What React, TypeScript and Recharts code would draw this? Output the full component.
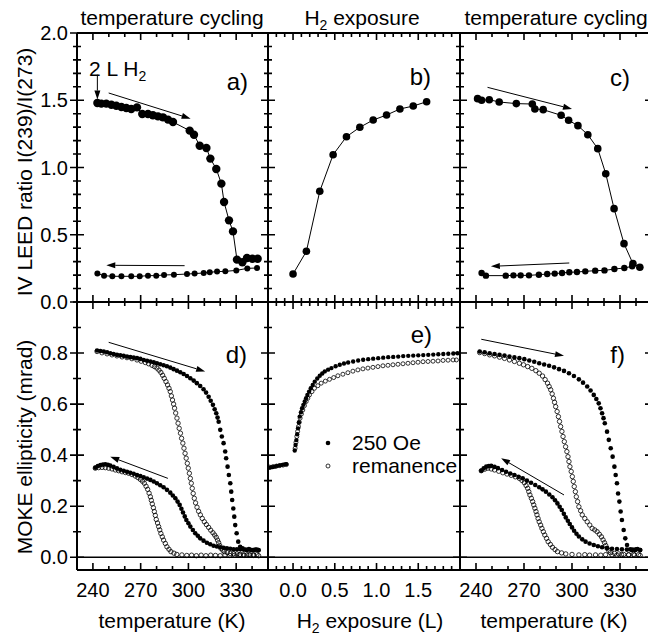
import { ComposedChart, Scatter, XAxis, YAxis, ReferenceLine } from "recharts";

// ---- tick values ----
const tempTicks = [240, 250, 260, 270, 280, 290, 300, 310, 320, 330, 340];
const tempMajor = [240, 270, 300, 330];
const expTicks = [-0.2, -0.1, 0, 0.1, 0.2, 0.3, 0.4, 0.5, 0.6, 0.7, 0.8, 0.9, 1.0, 1.1, 1.2, 1.3, 1.4, 1.5, 1.6, 1.7, 1.8, 1.9];
const expMajor = [0, 0.5, 1.0, 1.5];
const ratioTicks = [0, 0.1, 0.2, 0.3, 0.4, 0.5, 0.6, 0.7, 0.8, 0.9, 1.0, 1.1, 1.2, 1.3, 1.4, 1.5, 1.6, 1.7, 1.8, 1.9, 2.0];
const ratioMajor = [0, 0.5, 1.0, 1.5, 2.0];
const mokeTicks = [0, 0.1, 0.2, 0.3, 0.4, 0.5, 0.6, 0.7, 0.8, 0.9, 1.0];
const mokeMajor = [0, 0.2, 0.4, 0.6, 0.8];

// ---- a) IV LEED ratio, temperature cycling ----
const aHeat: [number, number][] = [
  [242.8, 1.48], [245.3, 1.475], [248.4, 1.475], [251.6, 1.467], [254.7, 1.459], [257.9, 1.45],
  [261.0, 1.442], [264.1, 1.435], [267.7, 1.447], [271.0, 1.398], [274.6, 1.398], [277.7, 1.388],
  [280.9, 1.38], [284.0, 1.373], [287.2, 1.356], [290.3, 1.338], [300.8, 1.274], [303.5, 1.244],
  [307.1, 1.162], [311.3, 1.145], [313.8, 1.066], [317.5, 0.989], [320.7, 0.88], [322.4, 0.743],
  [325.5, 0.607], [328.0, 0.525], [330.5, 0.315], [333.9, 0.295], [336.8, 0.327], [340.2, 0.322],
  [343.5, 0.322],
];
const aCool: [number, number][] = [
  [242.8, 0.211], [247.0, 0.196], [252.2, 0.191], [257.9, 0.191], [264.1, 0.191], [269.4, 0.191],
  [274.6, 0.196], [279.8, 0.196], [284.7, 0.201], [290.9, 0.203], [299.1, 0.208], [303.9, 0.211],
  [309.6, 0.216], [313.4, 0.221], [318.0, 0.226], [323.2, 0.228], [330.1, 0.235], [337.0, 0.25],
  [343.1, 0.253],
];

// ---- b) IV LEED ratio vs H2 exposure ----
const bExposure = [0, 0.16, 0.32, 0.48, 0.64, 0.8, 0.96, 1.12, 1.28, 1.44, 1.6];
const bRatio = [0.208, 0.377, 0.823, 1.095, 1.229, 1.299, 1.353, 1.39, 1.435, 1.457, 1.489];

// ---- c) IV LEED ratio, temperature cycling after exposure ----
const cHeat: [number, number][] = [
  [241.0, 1.512], [243.5, 1.5], [248.3, 1.504], [254.5, 1.487], [265.2, 1.475], [275.2, 1.472],
  [276.8, 1.435], [282.0, 1.43], [293.2, 1.388], [297.9, 1.351], [303.7, 1.311], [309.9, 1.244],
  [316.1, 1.14], [321.1, 0.954], [326.3, 0.694], [332.5, 0.434], [338.1, 0.285], [342.4, 0.258],
];
const cCool: [number, number][] = [
  [243.5, 0.216], [246.2, 0.196], [258.6, 0.196], [263.4, 0.198], [267.9, 0.198], [273.1, 0.198],
  [279.3, 0.203], [284.5, 0.208], [289.2, 0.211], [293.8, 0.216], [298.3, 0.221], [303.1, 0.223],
  [308.3, 0.228], [314.5, 0.233], [320.3, 0.235], [326.5, 0.245], [332.7, 0.253], [337.6, 0.265],
];

// ---- d) MOKE ellipticity ----
const dHeatField: [number, number][] = [
  [242.6, 0.81], [244.7, 0.808], [246.8, 0.806], [248.9, 0.803], [250.9, 0.799], [253.0, 0.796],
  [255.1, 0.793], [257.2, 0.791], [259.3, 0.789], [261.4, 0.786], [263.5, 0.784], [265.6, 0.782],
  [267.7, 0.78], [269.8, 0.777], [271.9, 0.773], [274.0, 0.77], [276.1, 0.767], [278.2, 0.764],
  [280.2, 0.76], [282.3, 0.756], [284.4, 0.752], [286.5, 0.748], [288.6, 0.743], [290.7, 0.737],
  [292.8, 0.731], [294.9, 0.725], [297.0, 0.718], [299.1, 0.71], [301.2, 0.701], [303.3, 0.692],
  [305.3, 0.682], [307.4, 0.671], [309.5, 0.658], [311.1, 0.645], [312.7, 0.629], [314.0, 0.613],
  [315.4, 0.597], [316.5, 0.58], [317.5, 0.564], [318.3, 0.547], [319.0, 0.531], [320.0, 0.499],
  [321.0, 0.473], [322.1, 0.447], [323.1, 0.414], [323.7, 0.388], [324.6, 0.355], [325.4, 0.322],
  [326.3, 0.29], [326.9, 0.257], [327.5, 0.224], [328.2, 0.191], [328.8, 0.159], [329.4, 0.126],
  [330.3, 0.094], [331.3, 0.061], [332.5, 0.041], [334.0, 0.035], [336.0, 0.03], [338.0, 0.032],
  [340.0, 0.028], [342.0, 0.03], [344.0, 0.027],
];
const dHeatRem: [number, number][] = [
  [242.6, 0.806], [245.7, 0.801], [248.9, 0.797], [252.0, 0.793], [255.1, 0.789], [258.3, 0.785],
  [261.4, 0.782], [264.5, 0.778], [267.7, 0.773], [270.3, 0.768], [272.9, 0.763], [275.0, 0.758],
  [277.1, 0.752], [278.7, 0.747], [280.2, 0.741], [281.5, 0.733], [282.7, 0.724], [283.8, 0.713],
  [284.8, 0.701], [285.9, 0.688], [286.9, 0.675], [287.8, 0.662], [288.6, 0.649], [289.3, 0.632],
  [290.0, 0.616], [290.7, 0.6], [291.3, 0.584], [292.0, 0.565], [292.8, 0.545], [293.5, 0.525],
  [294.2, 0.505], [295.0, 0.486], [295.7, 0.466], [296.5, 0.447], [297.2, 0.427], [297.9, 0.407],
  [298.6, 0.388], [299.3, 0.368], [299.9, 0.349], [300.6, 0.329], [301.2, 0.309], [301.8, 0.29],
  [302.4, 0.27], [303.0, 0.25], [303.7, 0.231], [304.5, 0.213], [305.4, 0.196], [306.4, 0.18],
  [307.5, 0.166], [308.7, 0.152], [310.0, 0.139], [311.3, 0.128], [312.7, 0.117], [314.0, 0.106],
  [315.4, 0.096], [316.5, 0.087], [317.5, 0.078], [318.3, 0.067], [319.0, 0.057], [319.7, 0.046],
  [320.4, 0.035], [321.5, 0.028], [322.5, 0.022], [324.4, 0.018], [326.3, 0.015], [328.4, 0.014],
  [330.5, 0.013], [332.6, 0.011], [334.6, 0.01], [336.7, 0.009], [338.8, 0.009], [340.9, 0.01],
  [343.0, 0.01],
];
const dCoolField: [number, number][] = [
  [241.5, 0.351], [243.1, 0.357], [244.7, 0.361], [246.3, 0.363], [247.8, 0.364], [249.4, 0.362],
  [250.9, 0.359], [253.0, 0.354], [255.1, 0.348], [257.2, 0.343], [259.3, 0.339], [261.4, 0.335],
  [263.5, 0.331], [265.6, 0.327], [267.7, 0.322], [269.8, 0.318], [271.9, 0.313], [274.0, 0.308],
  [276.1, 0.303], [278.2, 0.297], [280.2, 0.29], [282.3, 0.282], [284.4, 0.274], [286.5, 0.264],
  [288.6, 0.253], [290.2, 0.242], [291.8, 0.231], [293.2, 0.218], [294.5, 0.205], [295.6, 0.19],
  [296.6, 0.175], [297.7, 0.16], [298.7, 0.146], [300.0, 0.133], [301.2, 0.12], [302.8, 0.107],
  [304.3, 0.094], [305.9, 0.084], [307.4, 0.074], [309.5, 0.065], [311.6, 0.057], [313.7, 0.051],
  [315.8, 0.045], [317.9, 0.042], [320.0, 0.039], [322.1, 0.037], [324.2, 0.035], [326.3, 0.033],
  [328.4, 0.031], [330.5, 0.031], [332.6, 0.031], [334.7, 0.03], [336.8, 0.028], [338.9, 0.029],
  [341.0, 0.028], [343.0, 0.03], [344.1, 0.028],
];
const dCoolRem: [number, number][] = [
  [241.5, 0.349], [243.6, 0.351], [245.7, 0.352], [247.8, 0.351], [249.9, 0.349], [252.0, 0.346],
  [254.1, 0.342], [256.2, 0.339], [258.3, 0.335], [260.4, 0.332], [262.5, 0.329], [264.6, 0.324],
  [266.7, 0.318], [268.3, 0.312], [269.8, 0.305], [271.1, 0.298], [272.3, 0.29], [273.4, 0.278],
  [274.4, 0.266], [275.3, 0.251], [276.1, 0.237], [276.7, 0.223], [277.3, 0.209], [278.0, 0.194],
  [278.6, 0.179], [279.2, 0.164], [279.8, 0.148], [280.6, 0.134], [281.3, 0.12], [282.0, 0.107],
  [282.7, 0.093], [283.6, 0.08], [284.4, 0.067], [285.5, 0.054], [286.5, 0.041], [287.8, 0.031],
  [289.0, 0.022], [290.9, 0.016], [292.7, 0.011], [295.9, 0.009], [299.0, 0.007], [302.0, 0.008],
  [305.0, 0.006], [308.0, 0.008], [311.0, 0.006], [314.0, 0.008], [317.0, 0.007], [320.0, 0.006],
  [323.0, 0.009], [326.0, 0.007], [329.0, 0.008], [332.0, 0.009], [335.0, 0.007], [338.0, 0.01],
  [341.0, 0.007], [344.1, 0.006],
];

// ---- e) MOKE vs H2 exposure ----
const eField: [number, number][] = [
  [-0.28, 0.351], [-0.25, 0.353], [-0.22, 0.355], [-0.19, 0.358], [-0.16, 0.36], [-0.13, 0.362],
  [-0.1, 0.364], [-0.08, 0.365], [0.02, 0.418], [0.03, 0.44], [0.04, 0.459], [0.05, 0.482],
  [0.06, 0.505], [0.07, 0.528], [0.08, 0.551], [0.095, 0.568], [0.108, 0.584], [0.124, 0.597],
  [0.14, 0.61], [0.156, 0.623], [0.172, 0.636], [0.192, 0.649], [0.212, 0.662], [0.236, 0.675],
  [0.26, 0.688], [0.29, 0.7], [0.32, 0.711], [0.35, 0.72], [0.38, 0.728], [0.42, 0.735],
  [0.46, 0.741], [0.51, 0.748], [0.56, 0.754], [0.61, 0.759], [0.66, 0.763], [0.72, 0.767],
  [0.78, 0.771], [0.84, 0.774], [0.9, 0.776], [0.96, 0.778], [1.02, 0.78], [1.08, 0.782],
  [1.14, 0.784], [1.2, 0.785], [1.26, 0.786], [1.32, 0.788], [1.38, 0.789], [1.44, 0.79],
  [1.5, 0.791], [1.56, 0.792], [1.62, 0.793], [1.68, 0.794], [1.74, 0.795], [1.8, 0.796],
  [1.86, 0.797], [1.92, 0.798], [1.97, 0.799],
];
const eRem: [number, number][] = [
  [-0.28, 0.353], [-0.24, 0.355], [-0.2, 0.357], [-0.16, 0.359], [-0.12, 0.361], [-0.08, 0.363],
  [0.025, 0.427], [0.035, 0.45], [0.045, 0.473], [0.055, 0.493], [0.065, 0.512], [0.075, 0.529],
  [0.085, 0.545], [0.1, 0.561], [0.117, 0.577], [0.137, 0.594], [0.157, 0.61], [0.177, 0.623],
  [0.197, 0.636], [0.227, 0.649], [0.257, 0.662], [0.297, 0.672], [0.337, 0.682], [0.387, 0.69],
  [0.437, 0.697], [0.487, 0.704], [0.537, 0.711], [0.597, 0.717], [0.657, 0.723], [0.717, 0.729],
  [0.777, 0.734], [0.837, 0.738], [0.897, 0.741], [0.957, 0.744], [1.017, 0.747], [1.077, 0.75],
  [1.137, 0.752], [1.197, 0.754], [1.257, 0.756], [1.317, 0.758], [1.377, 0.76], [1.437, 0.762],
  [1.497, 0.764], [1.557, 0.766], [1.617, 0.767], [1.677, 0.768], [1.737, 0.769], [1.797, 0.771],
  [1.857, 0.772], [1.917, 0.773], [1.957, 0.773],
];

// ---- f) MOKE, second temperature cycle ----
const fHeatField: [number, number][] = [
  [242.3, 0.806], [245.4, 0.803], [248.5, 0.799], [251.6, 0.796], [254.7, 0.793], [257.8, 0.79],
  [260.9, 0.786], [264.0, 0.783], [267.1, 0.78], [270.2, 0.776], [273.3, 0.771], [276.4, 0.766],
  [279.5, 0.76], [282.6, 0.755], [285.7, 0.75], [288.8, 0.744], [291.9, 0.737], [295.0, 0.73],
  [298.1, 0.721], [301.2, 0.71], [304.3, 0.697], [306.9, 0.684], [309.5, 0.669], [311.6, 0.653],
  [313.6, 0.636], [315.2, 0.62], [316.7, 0.603], [317.8, 0.584], [318.8, 0.564], [319.7, 0.545],
  [320.5, 0.525], [321.9, 0.492], [323.0, 0.46], [324.2, 0.427], [325.4, 0.394], [326.5, 0.355],
  [327.3, 0.322], [328.1, 0.29], [328.8, 0.25], [329.6, 0.218], [330.4, 0.179], [331.2, 0.146],
  [332.3, 0.107], [333.3, 0.074], [334.4, 0.048], [336.4, 0.031], [338.0, 0.03], [339.5, 0.028],
  [341.0, 0.032], [342.6, 0.028],
];
const fHeatRem: [number, number][] = [
  [242.3, 0.802], [245.4, 0.798], [248.5, 0.793], [251.6, 0.789], [254.7, 0.784], [257.8, 0.779],
  [260.9, 0.773], [264.0, 0.767], [267.1, 0.76], [269.7, 0.754], [272.3, 0.747], [274.9, 0.74],
  [277.4, 0.731], [279.5, 0.721], [281.6, 0.71], [283.2, 0.696], [284.7, 0.682], [285.7, 0.669],
  [286.7, 0.656], [287.6, 0.64], [288.4, 0.623], [289.1, 0.607], [289.8, 0.59], [290.7, 0.571],
  [291.5, 0.551], [292.2, 0.532], [292.9, 0.512], [293.7, 0.493], [294.4, 0.473], [295.2, 0.453],
  [296.0, 0.433], [296.8, 0.414], [297.5, 0.394], [298.1, 0.375], [298.7, 0.355], [299.5, 0.336],
  [300.2, 0.316], [300.8, 0.297], [301.4, 0.277], [302.1, 0.257], [302.7, 0.237], [303.5, 0.218],
  [304.3, 0.198], [305.4, 0.182], [306.4, 0.166], [308.0, 0.152], [309.5, 0.139], [311.1, 0.126],
  [312.6, 0.113], [314.2, 0.107], [315.7, 0.1], [317.1, 0.09], [318.4, 0.08], [319.4, 0.068],
  [320.3, 0.057], [321.1, 0.046], [321.9, 0.035], [323.0, 0.026], [324.0, 0.018], [326.6, 0.015],
  [329.2, 0.013], [332.3, 0.011], [335.4, 0.01], [338.5, 0.011], [341.6, 0.01],
];
const fCoolField: [number, number][] = [
  [243.3, 0.339], [244.8, 0.348], [246.4, 0.355], [248.0, 0.357], [249.5, 0.358], [251.6, 0.354],
  [253.7, 0.349], [256.3, 0.342], [258.8, 0.335], [261.4, 0.328], [264.0, 0.322], [266.6, 0.315],
  [269.2, 0.309], [271.8, 0.3], [274.4, 0.292], [277.0, 0.283], [279.5, 0.274], [281.6, 0.266],
  [283.7, 0.257], [285.8, 0.246], [287.8, 0.235], [289.4, 0.223], [290.9, 0.211], [292.3, 0.198],
  [293.6, 0.185], [294.9, 0.17], [296.1, 0.156], [297.4, 0.143], [298.6, 0.13], [300.0, 0.117],
  [301.3, 0.104], [302.8, 0.092], [304.3, 0.081], [306.4, 0.07], [308.5, 0.061], [311.0, 0.054],
  [313.6, 0.048], [316.2, 0.043], [318.8, 0.039], [321.9, 0.036], [325.0, 0.033], [328.1, 0.032],
  [331.2, 0.031], [334.3, 0.03], [337.4, 0.028], [340.0, 0.031], [342.6, 0.028],
];
const fCoolRem: [number, number][] = [
  [243.3, 0.339], [245.4, 0.345], [247.4, 0.349], [249.5, 0.346], [251.6, 0.342], [254.2, 0.337],
  [256.8, 0.331], [259.4, 0.326], [262.0, 0.321], [264.6, 0.315], [267.1, 0.309], [268.7, 0.301],
  [270.2, 0.292], [271.3, 0.281], [272.3, 0.27], [273.0, 0.257], [273.7, 0.244], [274.6, 0.231],
  [275.4, 0.218], [276.1, 0.205], [276.8, 0.192], [277.5, 0.179], [278.1, 0.166], [278.8, 0.152],
  [279.5, 0.139], [280.4, 0.126], [281.2, 0.113], [282.1, 0.1], [283.0, 0.087], [284.1, 0.074],
  [285.1, 0.061], [286.5, 0.05], [287.8, 0.039], [289.4, 0.03], [290.9, 0.022], [293.5, 0.017],
  [296.1, 0.013], [300.0, 0.011], [304.3, 0.009], [308.0, 0.01], [311.0, 0.008], [314.7, 0.009],
  [318.0, 0.008], [321.0, 0.01], [325.0, 0.009], [328.0, 0.008], [331.0, 0.01], [335.4, 0.009],
  [339.0, 0.008], [342.6, 0.007],
];

// arrows drawn in data coordinates: [[x1, y1], [x2, y2]]
const aArrows = [[[249.9, 1.554], [301.4, 1.363]], [[297.6, 0.27], [248.4, 0.273]], [[242.8, 1.69], [242.8, 1.505]]];
const cArrows = [[[247.2, 1.596], [300.0, 1.435]], [[298.3, 0.29], [249.3, 0.265]]];
const dArrows = [[[249.9, 0.842], [310.5, 0.728]], [[287.1, 0.309], [250.9, 0.394]]];
const fArrows = [[[243.3, 0.854], [295.0, 0.789]], [[295.0, 0.244], [255.7, 0.388]]];

const FONT = "'Liberation Sans', Arial, Helvetica, sans-serif";
const P = 40;

const pts = (arr: [number, number][]) => arr.map(([x, y]) => ({ x, y }));
const has = (list: number[], v: number) => list.some((m) => Math.abs(m - v) < 1e-6);

function labelFor(side: "bottom" | "left", labels: number[], digits: number) {
  return (props: any) => {
    const { x, y, payload } = props;
    const v = payload.value;
    if (!has(labels, v)) return <g />;
    const txt = v.toFixed(digits);
    return side === "bottom" ? (
      <text x={x} y={y + 27} textAnchor="middle" fontSize={20} fontFamily={FONT} fill="#000">{txt}</text>
    ) : (
      <text x={x - 9} y={y + 7} textAnchor="end" fontSize={20} fontFamily={FONT} fill="#000">{txt}</text>
    );
  };
}

const arrowShape = (p: any) => {
  const { x1, y1, x2, y2 } = p;
  if ([x1, y1, x2, y2].some((n) => typeof n !== "number")) return <g />;
  const ang = Math.atan2(y2 - y1, x2 - x1);
  const L = 9;
  const W = 3;
  const bx = x2 - L * Math.cos(ang);
  const by = y2 - L * Math.sin(ang);
  const nx = -Math.sin(ang) * W;
  const ny = Math.cos(ang) * W;
  return (
    <g>
      <path d={`M${x1},${y1}L${bx},${by}`} stroke="#000" strokeWidth={1} fill="none" />
      <path d={`M${x2},${y2}L${bx + nx},${by + ny}L${bx - nx},${by - ny}Z`} fill="#000" stroke="none" />
    </g>
  );
};

const dot = (r: number) => (p: any) => <circle cx={p.cx} cy={p.cy} r={r} fill="#000" />;
const ring = (r: number) => (p: any) => (
  <circle cx={p.cx} cy={p.cy} r={r} fill="none" stroke="#000" strokeWidth={0.8} />
);

const axisLine = { stroke: "#000", strokeWidth: 2 };

interface Frame {
  left: number;
  top: number;
  width: number;
  height: number;
  xDomain: [number, number];
  xTicks: number[];
  xMajor: number[];
  xLabels: boolean;
  yDomain: [number, number];
  yTicks: number[];
  yMajor: number[];
  yLabels: boolean;
}

function Panel(p: Frame & { children: any }) {
  const xDigits = p.xMajor[0] === 0 ? 1 : 0;
  return (
    <div style={{ position: "absolute", left: p.left - P, top: p.top - P }}>
      <ComposedChart width={p.width + 2 * P} height={p.height + 2 * P} margin={{ top: 0, right: 0, bottom: 0, left: 0 }}>
        <XAxis xAxisId="b" orientation="bottom" type="number" dataKey="x" domain={p.xDomain} allowDataOverflow
          ticks={p.xTicks} interval={0} height={P} tickSize={0} tickMargin={0} tickLine={false} axisLine={axisLine}
          tick={p.xLabels ? labelFor("bottom", p.xMajor, xDigits) : false} />
        <XAxis xAxisId="t" orientation="top" type="number" domain={p.xDomain} allowDataOverflow
          height={P} tickLine={false} axisLine={axisLine} tick={false} />
        <YAxis yAxisId="l" orientation="left" type="number" dataKey="y" domain={p.yDomain} allowDataOverflow
          ticks={p.yTicks} interval={0} width={P} tickSize={0} tickMargin={0} tickLine={false} axisLine={axisLine}
          tick={p.yLabels ? labelFor("left", p.yMajor, 1) : false} />
        <YAxis yAxisId="r" orientation="right" type="number" domain={p.yDomain} allowDataOverflow
          width={P} tickLine={false} axisLine={axisLine} tick={false} />
        {p.children}
      </ComposedChart>
    </div>
  );
}

// inward tick marks on all four frame edges (the outer left edge also gets them outward)
function frameTicks(f: Frame, key: string) {
  const sx = (v: number) => f.left + ((v - f.xDomain[0]) / (f.xDomain[1] - f.xDomain[0])) * f.width;
  const sy = (v: number) => f.top + ((f.yDomain[1] - v) / (f.yDomain[1] - f.yDomain[0])) * f.height;
  const b = f.top + f.height;
  const r = f.left + f.width;
  let d = "";
  f.xTicks.forEach((v) => {
    const len = has(f.xMajor, v) ? 7 : 4;
    const x = sx(v);
    d += `M${x},${f.top}L${x},${f.top + len}M${x},${b}L${x},${b - len}`;
  });
  f.yTicks.forEach((v) => {
    const len = has(f.yMajor, v) ? 7 : 4;
    const y = sy(v);
    const o = f.yLabels ? len : 0;
    d += `M${f.left - o},${y}L${f.left + len},${y}M${r},${y}L${r - len},${y}`;
  });
  return <path key={key} d={d} stroke="#000" strokeWidth={1.6} fill="none" />;
}

const T: [number, number] = [230, 350];
const EXP: [number, number] = [-0.3, 2.0];
const RATIO: [number, number] = [0, 2.0];
const MOKE: [number, number] = [-0.05, 1.0];

const fa: Frame = { left: 77, top: 33, width: 191, height: 269, xDomain: T, xTicks: tempTicks, xMajor: tempMajor, xLabels: false, yDomain: RATIO, yTicks: ratioTicks, yMajor: ratioMajor, yLabels: true };
const fb: Frame = { left: 268, top: 33, width: 192, height: 269, xDomain: EXP, xTicks: expTicks, xMajor: expMajor, xLabels: false, yDomain: RATIO, yTicks: ratioTicks, yMajor: ratioMajor, yLabels: false };
const fc: Frame = { left: 460, top: 33, width: 192, height: 269, xDomain: T, xTicks: tempTicks, xMajor: tempMajor, xLabels: false, yDomain: RATIO, yTicks: ratioTicks, yMajor: ratioMajor, yLabels: false };
const fd: Frame = { left: 77, top: 302, width: 191, height: 268, xDomain: T, xTicks: tempTicks, xMajor: tempMajor, xLabels: true, yDomain: MOKE, yTicks: mokeTicks, yMajor: mokeMajor, yLabels: true };
const fe: Frame = { left: 268, top: 302, width: 192, height: 268, xDomain: EXP, xTicks: expTicks, xMajor: expMajor, xLabels: true, yDomain: MOKE, yTicks: mokeTicks, yMajor: mokeMajor, yLabels: false };
const ff: Frame = { left: 460, top: 302, width: 192, height: 268, xDomain: T, xTicks: tempTicks, xMajor: tempMajor, xLabels: true, yDomain: MOKE, yTicks: mokeTicks, yMajor: mokeMajor, yLabels: false };

const arrowLines = (list: number[][][]) =>
  list.map((s, i) => (
    <ReferenceLine
      key={`ar${i}`}
      xAxisId="b"
      yAxisId="l"
      segment={[{ x: s[0][0], y: s[0][1] }, { x: s[1][0], y: s[1][1] }]}
      shape={arrowShape}
    />
  ));

export default function App() {
  const bData = bExposure.map((x, i) => ({ x, y: bRatio[i] }));
  const zero = <ReferenceLine xAxisId="b" yAxisId="l" y={0} stroke="#000" strokeWidth={1.5} />;
  return (
    <div style={{ position: "absolute", left: 0, top: 0, width: 648, height: 639, overflow: "hidden", background: "#fff" }}>
      {/* top row */}
      <Panel {...fa}>
        <Scatter xAxisId="b" yAxisId="l" data={pts(aCool)} line={{ stroke: "#000", strokeWidth: 1 }} shape={dot(3)} isAnimationActive={false} />
        <Scatter xAxisId="b" yAxisId="l" data={pts(aHeat)} line={{ stroke: "#000", strokeWidth: 1 }} shape={dot(4.2)} isAnimationActive={false} />
        {arrowLines(aArrows)}
      </Panel>
      <Panel {...fb}>
        <Scatter xAxisId="b" yAxisId="l" data={bData} line={{ stroke: "#000", strokeWidth: 1 }} shape={dot(3.8)} isAnimationActive={false} />
      </Panel>
      <Panel {...fc}>
        <Scatter xAxisId="b" yAxisId="l" data={pts(cCool)} line={{ stroke: "#000", strokeWidth: 1 }} shape={dot(3.2)} isAnimationActive={false} />
        <Scatter xAxisId="b" yAxisId="l" data={pts(cHeat)} line={{ stroke: "#000", strokeWidth: 1 }} shape={dot(3.8)} isAnimationActive={false} />
        {arrowLines(cArrows)}
      </Panel>

      {/* bottom row */}
      <Panel {...fd}>
        {zero}
        <Scatter xAxisId="b" yAxisId="l" data={pts(dHeatRem)} shape={ring(2.2)} isAnimationActive={false} />
        <Scatter xAxisId="b" yAxisId="l" data={pts(dCoolRem)} shape={ring(2.2)} isAnimationActive={false} />
        <Scatter xAxisId="b" yAxisId="l" data={pts(dHeatField)} shape={dot(2.3)} isAnimationActive={false} />
        <Scatter xAxisId="b" yAxisId="l" data={pts(dCoolField)} shape={dot(2.3)} isAnimationActive={false} />
        {arrowLines(dArrows)}
      </Panel>
      <Panel {...fe}>
        {zero}
        <Scatter xAxisId="b" yAxisId="l" data={pts(eRem)} shape={ring(2)} isAnimationActive={false} />
        <Scatter xAxisId="b" yAxisId="l" data={pts(eField)} shape={dot(2.2)} isAnimationActive={false} />
      </Panel>
      <Panel {...ff}>
        {zero}
        <Scatter xAxisId="b" yAxisId="l" data={pts(fHeatRem)} shape={ring(2.2)} isAnimationActive={false} />
        <Scatter xAxisId="b" yAxisId="l" data={pts(fCoolRem)} shape={ring(2.2)} isAnimationActive={false} />
        <Scatter xAxisId="b" yAxisId="l" data={pts(fHeatField)} shape={dot(2.3)} isAnimationActive={false} />
        <Scatter xAxisId="b" yAxisId="l" data={pts(fCoolField)} shape={dot(2.3)} isAnimationActive={false} />
        {arrowLines(fArrows)}
      </Panel>

      {/* tick marks, titles, axis labels, panel letters, legend */}
      <svg width={648} height={639} style={{ position: "absolute", left: 0, top: 0, pointerEvents: "none" }}>
        {[fa, fb, fc, fd, fe, ff].map((f, i) => frameTicks(f, `ft${i}`))}
        <g fontFamily={FONT} fill="#000">
          <text x={172} y={25} fontSize={21} textAnchor="middle">temperature cycling</text>
          <text x={362} y={25} fontSize={21} textAnchor="middle">
            H<tspan fontSize={14} dy={5}>2</tspan><tspan dy={-5}> exposure</tspan>
          </text>
          <text x={556} y={25} fontSize={21} textAnchor="middle">temperature cycling</text>

          <text x={172} y={628} fontSize={21} textAnchor="middle">temperature (K)</text>
          <text x={370} y={628} fontSize={21} textAnchor="middle">
            H<tspan fontSize={14} dy={5}>2</tspan><tspan dy={-5}> exposure (L)</tspan>
          </text>
          <text x={554} y={628} fontSize={21} textAnchor="middle">temperature (K)</text>

          <text transform="translate(32,172) rotate(-90)" fontSize={21} textAnchor="middle">IV LEED ratio I(239)/I(273)</text>
          <text transform="translate(32,447) rotate(-90)" fontSize={21} textAnchor="middle">MOKE ellipticity (mrad)</text>

          <text x={89} y={76} fontSize={21}>
            2 L H<tspan fontSize={14} dy={5}>2</tspan>
          </text>

          <text x={248} y={90} fontSize={24} textAnchor="end">a)</text>
          <text x={431} y={85} fontSize={24} textAnchor="end">b)</text>
          <text x={630} y={86} fontSize={24} textAnchor="end">c)</text>
          <text x={247} y={363} fontSize={24} textAnchor="end">d)</text>
          <text x={432} y={343} fontSize={24} textAnchor="end">e)</text>
          <text x={625} y={363} fontSize={24} textAnchor="end">f)</text>

          <circle cx={328} cy={443} r={2.3} fill="#000" />
          <text x={352} y={450} fontSize={21}>250 Oe</text>
          <circle cx={328} cy={466} r={2} fill="none" stroke="#000" strokeWidth={0.8} />
          <text x={352} y={473} fontSize={21}>remanence</text>
        </g>
      </svg>
    </div>
  );
}
